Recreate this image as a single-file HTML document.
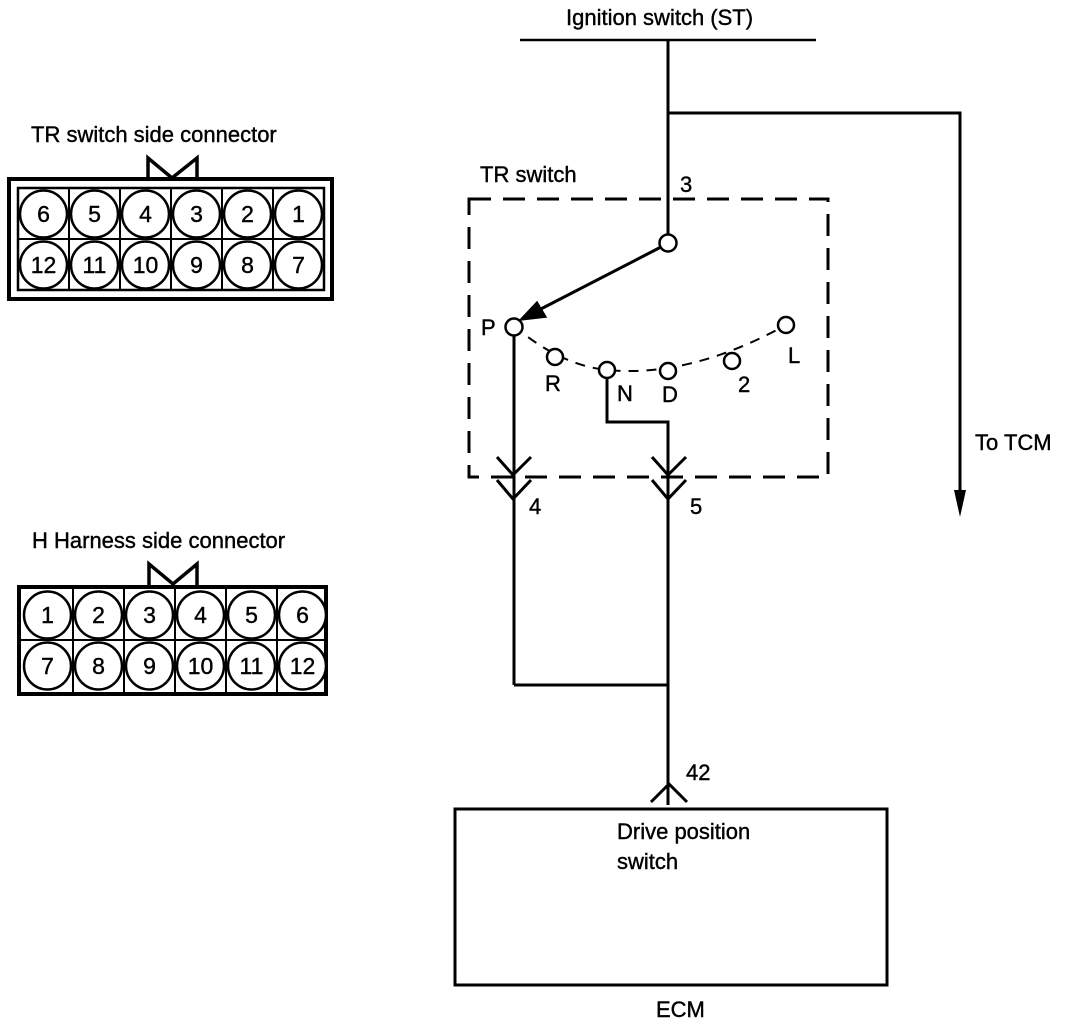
<!DOCTYPE html>
<html><head><meta charset="utf-8"><style>
html,body{margin:0;padding:0;background:#fff;}
svg{display:block;}
text{font-family:"Liberation Sans",Arial,sans-serif;fill:#000;stroke:#000;stroke-width:0.4;}
</style></head><body>
<svg width="1088" height="1024" viewBox="0 0 1088 1024" xmlns="http://www.w3.org/2000/svg">
<g stroke="#000" fill="none">
<rect x="9" y="179" width="323" height="120" stroke-width="4"/>
<rect x="18" y="188" width="306" height="102" stroke-width="2.5"/>
<line x1="18" y1="239" x2="324" y2="239" stroke-width="2"/>
<g stroke-width="2">
<line x1="69" y1="188" x2="69" y2="290"/><line x1="120" y1="188" x2="120" y2="290"/>
<line x1="171" y1="188" x2="171" y2="290"/><line x1="222" y1="188" x2="222" y2="290"/>
<line x1="273" y1="188" x2="273" y2="290"/>
</g>
<path d="M148 180 L148 158 L172 178 L197 158 L197 180" stroke-width="3.5"/>
<g stroke-width="2.5" fill="#fff">
<circle cx="43.5" cy="214" r="23.5"/><circle cx="94.5" cy="214" r="23.5"/><circle cx="145.5" cy="214" r="23.5"/>
<circle cx="196.5" cy="214" r="23.5"/><circle cx="247.5" cy="214" r="23.5"/><circle cx="298.5" cy="214" r="23.5"/>
<circle cx="43.5" cy="265" r="23.5"/><circle cx="94.5" cy="265" r="23.5"/><circle cx="145.5" cy="265" r="23.5"/>
<circle cx="196.5" cy="265" r="23.5"/><circle cx="247.5" cy="265" r="23.5"/><circle cx="298.5" cy="265" r="23.5"/>
</g>
<rect x="19" y="587" width="307" height="107" stroke-width="4"/>
<line x1="19" y1="640" x2="326" y2="640" stroke-width="2"/>
<g stroke-width="2">
<line x1="73" y1="587" x2="73" y2="694"/><line x1="124" y1="587" x2="124" y2="694"/>
<line x1="175" y1="587" x2="175" y2="694"/><line x1="226" y1="587" x2="226" y2="694"/>
<line x1="277" y1="587" x2="277" y2="694"/>
</g>
<path d="M149 587 L149 564 L173 584 L197 564 L197 587" stroke-width="3.5"/>
<g stroke-width="2.5" fill="#fff">
<circle cx="47.5" cy="615" r="23.5"/><circle cx="98.5" cy="615" r="23.5"/><circle cx="149.5" cy="615" r="23.5"/>
<circle cx="200.5" cy="615" r="23.5"/><circle cx="251.5" cy="615" r="23.5"/><circle cx="302.5" cy="615" r="23.5"/>
<circle cx="47.5" cy="666" r="23.5"/><circle cx="98.5" cy="666" r="23.5"/><circle cx="149.5" cy="666" r="23.5"/>
<circle cx="200.5" cy="666" r="23.5"/><circle cx="251.5" cy="666" r="23.5"/><circle cx="302.5" cy="666" r="23.5"/>
</g>
<line x1="520" y1="40" x2="816" y2="40" stroke-width="2.5"/>
<line x1="668" y1="40" x2="668" y2="235" stroke-width="3"/>
<polyline points="668,113 960,113 960,495" stroke-width="3"/>
<rect x="469" y="199" width="359" height="278" stroke-width="3" stroke-dasharray="22,12"/>
<line x1="661" y1="247" x2="535" y2="312" stroke-width="3"/>
<path d="M514 326 Q 560 365 607 370 Q 690 378 786 325" stroke-width="2" stroke-dasharray="10,8"/>
<g stroke-width="2.5" fill="#fff">
<circle cx="668" cy="243" r="8.5"/>
<circle cx="514" cy="327" r="8.5"/>
<circle cx="555" cy="357" r="8"/>
<circle cx="607" cy="370" r="8"/>
<circle cx="668" cy="371" r="8"/>
<circle cx="732" cy="361" r="8"/>
<circle cx="786" cy="325" r="8"/>
</g>
<line x1="514" y1="336" x2="514" y2="685" stroke-width="3"/>
<polyline points="607,378 607,422 668,422 668,805" stroke-width="3"/>
<line x1="514" y1="685" x2="668" y2="685" stroke-width="3"/>
<g stroke-width="3">
<polyline points="497,457 513,475 531,457"/><polyline points="497,480 513,499 531,480"/>
<polyline points="652,457 668,475 686,457"/><polyline points="652,480 668,499 686,480"/>
<polyline points="651,802 669,784 687,802"/>
</g>
<rect x="455" y="809" width="432" height="176" stroke-width="3"/>
</g>
<polygon points="954,490 966,490 960,517" fill="#000"/>
<polygon points="520,320 537,302 546,317" fill="#000" stroke="#000" stroke-width="1.5"/>
<g font-size="22">
<text x="31" y="142">TR switch side connector</text>
<text x="32" y="548">H Harness side connector</text>
<text x="566" y="25">Ignition switch (ST)</text>
<text x="480" y="182">TR switch</text>
<text x="680" y="192">3</text>
<text x="481" y="335">P</text>
<text x="545" y="391">R</text>
<text x="617" y="401">N</text>
<text x="662" y="402">D</text>
<text x="738" y="392">2</text>
<text x="788" y="363">L</text>
<text x="529" y="514">4</text>
<text x="690" y="514">5</text>
<text x="975" y="450">To TCM</text>
<text x="686" y="780">42</text>
<text x="617" y="839">Drive position</text>
<text x="617" y="869">switch</text>
<text x="656" y="1017">ECM</text>
</g>
<g font-size="23" text-anchor="middle">
<text x="43.5" y="222">6</text><text x="94.5" y="222">5</text><text x="145.5" y="222">4</text>
<text x="196.5" y="222">3</text><text x="247.5" y="222">2</text><text x="298.5" y="222">1</text>
<text x="43.5" y="273">12</text><text x="94.5" y="273">11</text><text x="145.5" y="273">10</text>
<text x="196.5" y="273">9</text><text x="247.5" y="273">8</text><text x="298.5" y="273">7</text>
<text x="47.5" y="623">1</text><text x="98.5" y="623">2</text><text x="149.5" y="623">3</text>
<text x="200.5" y="623">4</text><text x="251.5" y="623">5</text><text x="302.5" y="623">6</text>
<text x="47.5" y="674">7</text><text x="98.5" y="674">8</text><text x="149.5" y="674">9</text>
<text x="200.5" y="674">10</text><text x="251.5" y="674">11</text><text x="302.5" y="674">12</text>
</g>
</svg>
</body></html>
